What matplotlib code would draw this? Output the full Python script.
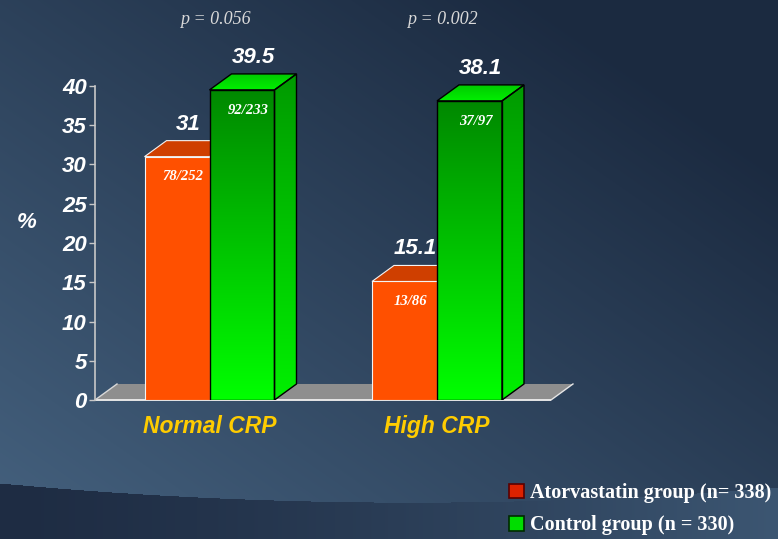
import numpy as np
import matplotlib
matplotlib.use("Agg")
import matplotlib.pyplot as plt
from matplotlib.patches import Polygon, Patch
from matplotlib.font_manager import FontProperties
from matplotlib.transforms import blended_transform_factory

# ---------------- data ----------------
categories = ["Normal CRP", "High CRP"]
atorvastatin = [31, 15.1]
control = [39.5, 38.1]
atorvastatin_frac = ["78/252", "13/86"]
control_frac = ["92/233", "37/97"]
p_values = ["p = 0.056", "p = 0.002"]
yticks = [0, 5, 10, 15, 20, 25, 30, 35, 40]
legend_labels = ["Atorvastatin group (n= 338)", "Control group (n = 330)"]

# ---------------- style ----------------
W, H = 778, 539
SANS = "Liberation Sans"
SERIF = "Liberation Serif"
bar_w = 0.2857
depth_x = 0.0967
depth_y = 2.04

fig = plt.figure(figsize=(W / 100, H / 100), dpi=100)

# background
bg = fig.add_axes([0, 0, 1, 1], zorder=-10)
yy, xx = np.mgrid[0:H, 0:W]
xn = xx / W
yd = yy / H
t = np.clip(0.62 * xn + 0.62 * (1 - yd) - 0.05, 0, 1)
light = np.array([0x43, 0x5f, 0x7c]) / 255
dark = np.array([0x1b, 0x2a, 0x40]) / 255
img = light + (dark - light) * t[..., None]
# lower wave band
xs_c = np.array([0, 450, 778])
ys_c = np.array([483, 502, 487])
coef = np.polyfit(xs_c, ys_c, 2)
ycurve = np.polyval(coef, xx)
band_l = np.array([0x1e, 0x2c, 0x43]) / 255
band_r = np.array([0x3c, 0x56, 0x72]) / 255
tb = np.clip(xn ** 1.3, 0, 1)
band = band_l + (band_r - band_l) * tb[..., None]
mask = yy > ycurve
img[mask] = band[mask]
bg.imshow(img, extent=[0, 1, 0, 1], aspect="auto", interpolation="bilinear")
bg.axis("off")

# main axes
ax = fig.add_axes([95 / W, 139 / H, 480 / W, 392.5 / H])
ax.patch.set_alpha(0)
xlim = (-0.5033, 1.6066)
ylim = (0, 50)

x = np.arange(len(categories))


def grad_image(ax, clip_patch, extent, top_c, bot_c, z):
    n = 256
    c0 = np.array(matplotlib.colors.to_rgb(top_c))
    c1 = np.array(matplotlib.colors.to_rgb(bot_c))
    g = np.linspace(0, 1, n)[:, None, None]
    im_arr = c0 + (c1 - c0) * g
    im = ax.imshow(im_arr, extent=extent, aspect="auto", origin="upper",
                   interpolation="bilinear", zorder=z)
    im.set_clip_path(clip_patch)
    return im


# floor
fl_l = xlim[0]
fl_r = 1.501
floor = Polygon([(fl_l, 0), (fl_r, 0), (fl_r + depth_x, depth_y), (fl_l + depth_x, depth_y)],
                closed=True, facecolor="#8e8e8e", edgecolor="none", zorder=1, clip_on=False)
ax.add_patch(floor)
ax.plot([fl_l, fl_r], [0, 0], color="#e6e6e6", lw=1.4, zorder=1.5, clip_on=False, solid_capstyle="butt")
ax.plot([fl_l, fl_l + depth_x], [0, depth_y], color="#d8d8d8", lw=1.0, zorder=1.5, clip_on=False)
ax.plot([fl_r, fl_r + depth_x], [0, depth_y], color="#e6e6e6", lw=1.0, zorder=1.5, clip_on=False)

# atorvastatin bars (orange)
ob = ax.bar(x - bar_w / 2, atorvastatin, bar_w, color="#ff5000", edgecolor="#f4f4f4",
            linewidth=0.8, zorder=3)
for rect, h in zip(ob, atorvastatin):
    xl = rect.get_x()
    xr = xl + rect.get_width()
    side = Polygon([(xr, 0), (xr + depth_x, depth_y), (xr + depth_x, h + depth_y), (xr, h)],
                   facecolor="#b83800", edgecolor="none", zorder=2)
    top = Polygon([(xl, h), (xl + depth_x, h + depth_y), (xr + depth_x, h + depth_y), (xr, h)],
                  facecolor="#cf3f00", edgecolor="#f4f4f4", linewidth=0.8, zorder=3)
    ax.add_patch(side)
    ax.add_patch(top)

# control bars (green with gradients)
gb = ax.bar(x + bar_w / 2, control, bar_w, facecolor="none", edgecolor="black",
            linewidth=1.0, zorder=6)
for rect, h in zip(gb, control):
    xl = rect.get_x()
    xr = xl + rect.get_width()
    grad_image(ax, rect, [xl, xr, 0, h], "#008800", "#00ff00", 5)
    side = Polygon([(xr, 0), (xr + depth_x, depth_y), (xr + depth_x, h + depth_y), (xr, h)],
                   facecolor="none", edgecolor="black", linewidth=1.0, zorder=6)
    ax.add_patch(side)
    grad_image(ax, side, [xr, xr + depth_x, 0, h + depth_y], "#009a00", "#00f000", 5)
    top = Polygon([(xl, h), (xl + depth_x, h + depth_y), (xr + depth_x, h + depth_y), (xr, h)],
                  facecolor="none", edgecolor="black", linewidth=1.0, zorder=6)
    ax.add_patch(top)
    grad_image(ax, top, [xl, xr + depth_x, h, h + depth_y], "#00c800", "#00f000", 5)

# value labels and counts
val_font = dict(family=SANS, weight="bold", style="italic", size=16, color="white")
frac_font = dict(family=SERIF, weight="bold", style="italic", size=10.5, color="white")
for bars, vals, fracs in ((ob, atorvastatin, atorvastatin_frac), (gb, control, control_frac)):
    for rect, v, fr in zip(bars, vals, fracs):
        cx = rect.get_x() + rect.get_width() / 2
        ax.annotate(f"{v:g}", xy=(cx + depth_x / 2, v + depth_y), xytext=(0, 8),
                    textcoords="offset points", ha="center", va="baseline", zorder=8, **val_font)
        ax.annotate(fr, xy=(cx, v), xytext=(4.5, -14.5), textcoords="offset points",
                    ha="center", va="center", zorder=8, **frac_font)

# p-values
tr = blended_transform_factory(ax.transData, fig.transFigure)
for xi, p in zip(x, p_values):
    ax.text(xi + 0.025, 1 - 20 / H, p, transform=tr, ha="center", va="center",
            family=SERIF, style="italic", size=13, color="#d9d9d9")

# axes styling
ax.set_xlim(*xlim)
ax.set_ylim(*ylim)
for s in ("top", "right", "bottom"):
    ax.spines[s].set_visible(False)
ax.spines["left"].set_bounds(0, 40)
ax.spines["left"].set_color("#c8c8c8")
ax.spines["left"].set_linewidth(1.2)
ax.set_yticks(yticks)
ax.tick_params(axis="y", direction="out", length=4.5, width=1.0, color="#c8c8c8",
               labelcolor="white", labelsize=16, pad=1.5)
for lab in ax.get_yticklabels():
    lab.set_fontfamily(SANS)
    lab.set_fontweight("bold")
    lab.set_fontstyle("italic")
ax.set_xticks(x, categories)
ax.tick_params(axis="x", length=0, pad=11, labelcolor="#ffcc00", labelsize=16.5)
for lab in ax.get_xticklabels():
    lab.set_fontfamily(SANS)
    lab.set_fontweight("bold")
    lab.set_fontstyle("italic")

fig.text(27 / W, 1 - 222 / H, "%", ha="center", va="center", family=SANS,
         weight="bold", style="italic", size=16, color="white")

# legend
handles = [Patch(facecolor="#dd2200", edgecolor="#5a0000", linewidth=1.2),
           Patch(facecolor="#00dd00", edgecolor="#002a00", linewidth=1.2)]
leg = fig.legend(handles, legend_labels, loc="upper left",
                 bbox_to_anchor=(509 / W, 1 - 483 / H), frameon=False,
                 prop=FontProperties(family=SERIF, weight="bold", size=14.5),
                 labelcolor="white", handlelength=0.75, handleheight=0.75,
                 handletextpad=0.3, labelspacing=0.62, borderaxespad=0, borderpad=0)

fig.savefig("out.png", dpi=100)
